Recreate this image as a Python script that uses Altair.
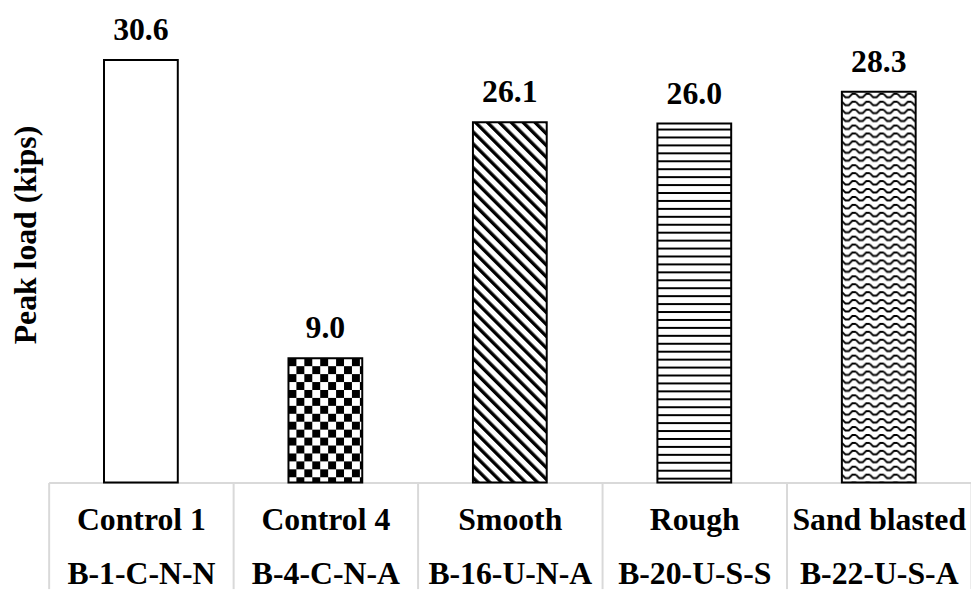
import base64
import altair as alt
import pandas as pd

# ---- data ----
categories = ["Control 1", "Control 4", "Smooth", "Rough", "Sand blasted"]
specimens = ["B-1-C-N-N", "B-4-C-N-A", "B-16-U-N-A", "B-20-U-S-S", "B-22-U-S-A"]
peak_load = [30.6, 9.0, 26.1, 26.0, 28.3]

# ---- styles (fill patterns) ----
def svg_pattern(tile_w, tile_h, body, transform=""):
    tr = f" patternTransform='{transform}'" if transform else ""
    svg = (
        "<svg xmlns='http://www.w3.org/2000/svg' width='100%' height='100%'>"
        f"<defs><pattern id='p' width='{tile_w}' height='{tile_h}' patternUnits='userSpaceOnUse'{tr}>"
        f"{body}</pattern></defs>"
        "<rect width='100%' height='100%' fill='url(#p)'/></svg>"
    )
    return "data:image/svg+xml;base64," + base64.b64encode(svg.encode()).decode()

bg = "<rect width='40' height='40' fill='white'/>"
pattern_style = {
    "Control 1": svg_pattern(10, 10, bg),
    "Control 4": svg_pattern(16, 16, bg + "<rect width='8' height='8' fill='black'/>"
                                        "<rect x='8' y='8' width='8' height='8' fill='black'/>"),
    "Smooth": svg_pattern(8.5, 8.5, bg + "<rect width='3.4' height='8.5' fill='black'/>", "rotate(-45)"),
    "Rough": svg_pattern(8, 8, bg + "<rect y='5' width='8' height='2' fill='black'/>"),
    "Sand blasted": svg_pattern(14, 8, bg + "<polyline points='0,2 3.5,5.5 7,5.5 10.5,2 14,2' fill='none' "
                                            "stroke='black' stroke-width='1.8'/>"),
}

df = pd.DataFrame({
    "label": [f"{c}|{s}" for c, s in zip(categories, specimens)],
    "category": categories,
    "load": peak_load,
})
df["pattern"] = df["category"].map(pattern_style)

FONT = "Liberation Serif, Times New Roman, serif"
order = df["label"].tolist()

x_enc = alt.X(
    "label:N",
    sort=order,
    scale=alt.Scale(paddingInner=0, paddingOuter=0),
    axis=alt.Axis(
        title=None,
        labelExpr="split(datum.label, '|')",
        labelAngle=0,
        labelFont=FONT,
        labelFontSize=32,
        labelFontWeight="bold",
        labelColor="black",
        labelLineHeight=55,
        labelPadding=-85,
        labelBaseline="top",
        tickBand="extent",
        tickSize=107,
        tickColor="#d9d9d9",
        tickWidth=2,
        domainColor="#d9d9d9",
        domainWidth=2,
        grid=False,
    ),
)
y_scale = alt.Scale(domain=[0, 34.2], nice=False)
y_enc = alt.Y(
    "load:Q",
    scale=y_scale,
    axis=alt.Axis(
        title="Peak load (kips)",
        labels=False,
        ticks=False,
        domain=False,
        grid=False,
        titleFont=FONT,
        titleFontSize=32,
        titleFontWeight="bold",
        titleColor="black",
        titlePadding=6,
        titleY=226,
    ),
)

base = alt.Chart(df)

fills = base.mark_image(aspect=False, width=alt.RelativeBandSize(0.4)).encode(
    x=x_enc, y=y_enc, y2=alt.datum(0), url="pattern:N"
)
bars = base.mark_bar(
    fillOpacity=0, stroke="black", strokeWidth=2, width=alt.RelativeBandSize(0.4)
).encode(x=x_enc, y=y_enc)
labels = base.mark_text(
    dy=-20, baseline="alphabetic", font=FONT, fontSize=32, fontWeight="bold", color="black"
).encode(x=x_enc, y=y_enc, text=alt.Text("load:Q", format=".1f"))

chart = (
    alt.layer(fills, bars, labels)
    .properties(
        width=930,
        height=476,
        autosize=alt.AutoSizeParams(type="none"),
        padding={"left": 41, "top": 0, "right": 0, "bottom": 106},
    )
    .configure_view(stroke=None)
)

chart.save("out.html", embed_options={"renderer": "svg", "actions": False})
